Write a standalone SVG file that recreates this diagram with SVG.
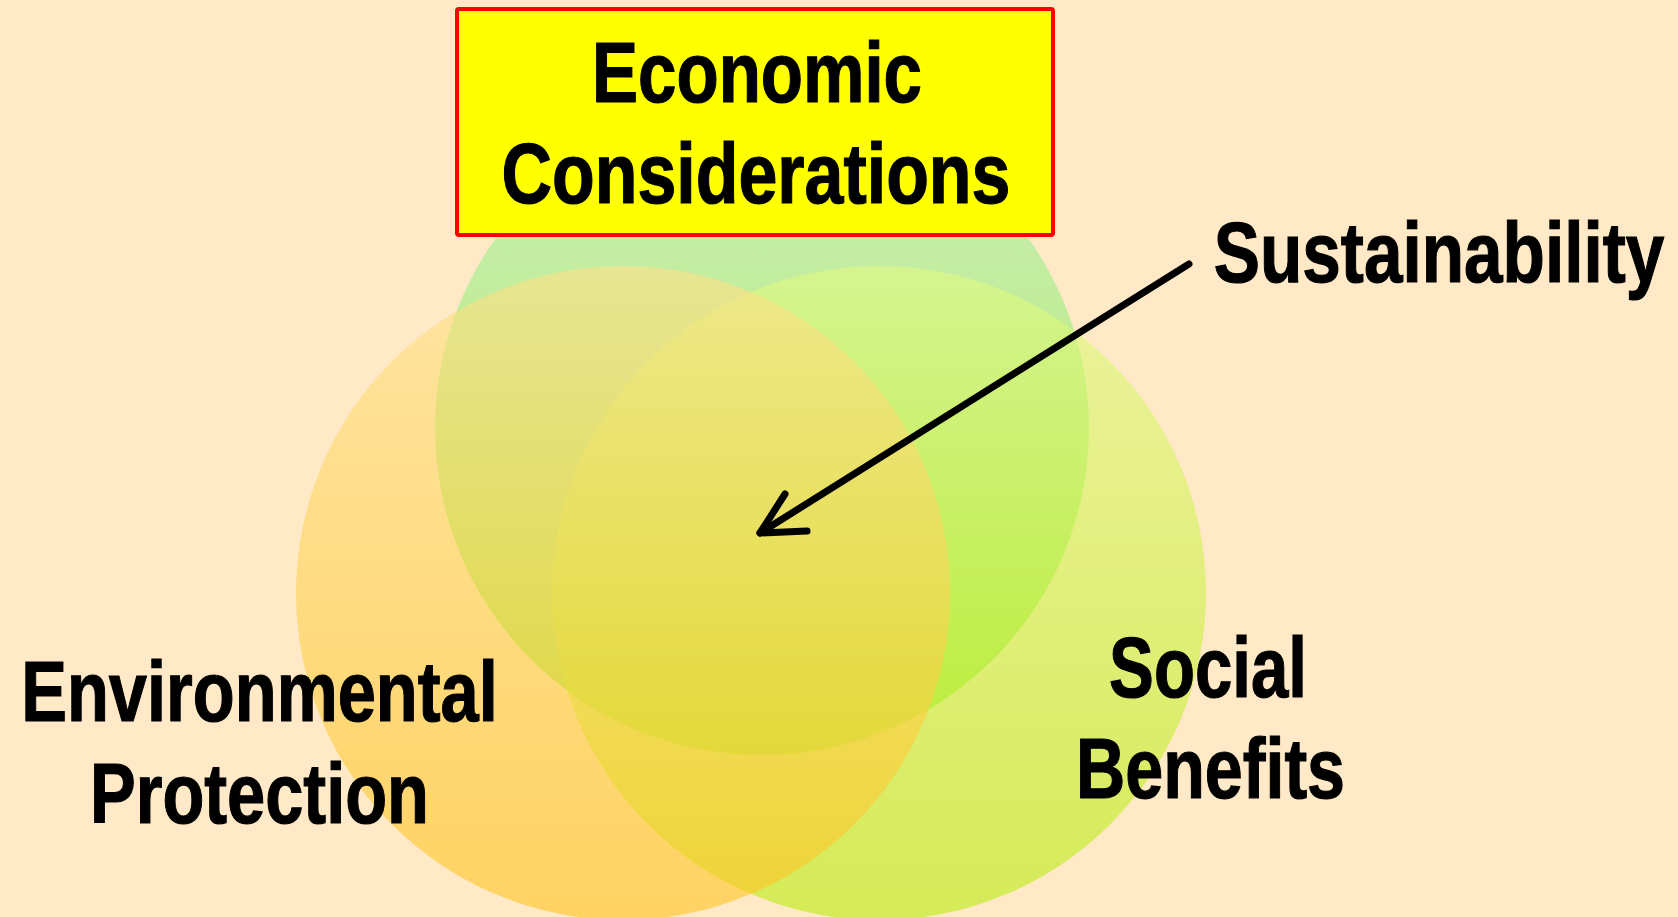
<svg xmlns="http://www.w3.org/2000/svg" width="1678" height="917" viewBox="0 0 1678 917">
<defs>
<linearGradient id="gGreen" x1="0" y1="0" x2="0" y2="1">
<stop offset="0" stop-color="#A6F3B7"/>
<stop offset="1" stop-color="#7BE700"/>
</linearGradient>
<linearGradient id="gSocial" x1="0" y1="0" x2="0" y2="1">
<stop offset="0" stop-color="#E1F985"/>
<stop offset="1" stop-color="#B9EC0C"/>
</linearGradient>
<linearGradient id="gOrange" x1="0" y1="0" x2="0" y2="1">
<stop offset="0" stop-color="#FFE189"/>
<stop offset="1" stop-color="#FFC41F"/>
</linearGradient>
<style>
.lbl{font-family:"Liberation Sans",Arial,sans-serif;font-weight:bold;font-size:86px;fill:#000;stroke:#000;stroke-width:1.2;text-anchor:middle}
.circ{fill-opacity:0.6}
.conn{fill:none;stroke:#000;stroke-width:7;stroke-linecap:round;stroke-linejoin:round}
</style>
</defs>
<rect width="1678" height="917" fill="#FFE9C7"/>
<g id="economic-circle"><circle class="circ" cx="762" cy="428" r="327" fill="url(#gGreen)"/></g>
<g id="social-circle"><circle class="circ" cx="879" cy="593" r="327" fill="url(#gSocial)"/></g>
<g id="environmental-circle"><circle class="circ" cx="623" cy="593" r="327" fill="url(#gOrange)"/></g>
<g id="economic">
<rect x="457" y="9" width="596" height="226" rx="2" fill="#FFFF00" stroke="#FF0000" stroke-width="4"/>
<text class="lbl" transform="translate(757,102) scale(0.803,1)">Economic</text>
<text class="lbl" transform="translate(756,203) scale(0.813,1)">Considerations</text>
</g>
<g id="sustainability">
<text class="lbl" transform="translate(1439,282) scale(0.806,1)">Sustainability</text>
</g>
<g id="environmental">
<text class="lbl" transform="translate(259.5,721) scale(0.798,1)">Environmental</text>
<text class="lbl" transform="translate(259.5,823) scale(0.797,1)">Protection</text>
</g>
<g id="social">
<text class="lbl" transform="translate(1208,697) scale(0.781,1)">Social</text>
<text class="lbl" transform="translate(1210.5,798) scale(0.793,1)">Benefits</text>
</g>
<g id="connectors">
<path class="conn" d="M1189,264 L760,533"/>
<path class="conn" d="M785,494 L760,533 L807,531"/>
</g>
</svg>
